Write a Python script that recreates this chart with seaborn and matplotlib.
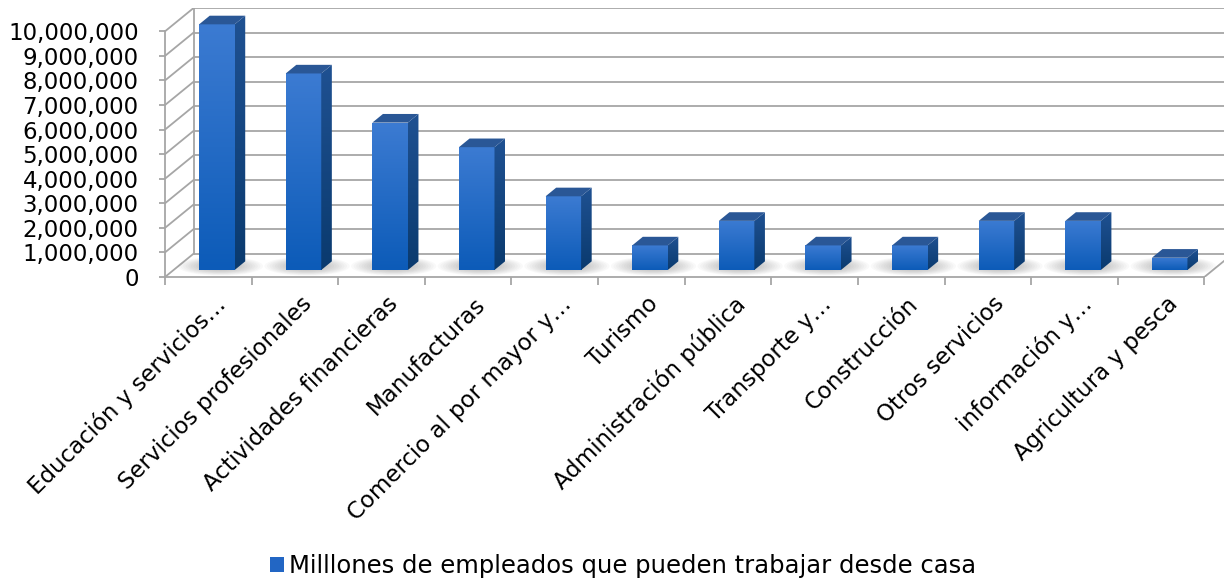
import numpy as np
import matplotlib
matplotlib.use("Agg")
import matplotlib.pyplot as plt
import seaborn as sns
import pandas as pd
from matplotlib.patches import Polygon, Patch, Ellipse
from matplotlib.colors import LinearSegmentedColormap
from matplotlib.ticker import FuncFormatter

# datos
sectores = [
    "Educación y servicios…", "Servicios profesionales", "Actividades financieras",
    "Manufacturas", "Comercio al por mayor y…", "Turismo", "Administración pública",
    "Transporte y…", "Construcción", "Otros servicios", "información y…",
    "Agricultura y pesca",
]
empleados = [10_000_000, 8_000_000, 6_000_000, 5_000_000, 3_000_000, 1_000_000,
             2_000_000, 1_000_000, 1_000_000, 2_000_000, 2_000_000, 500_000]
y_ticks = list(range(0, 10_000_001, 1_000_000))
leyenda = "Milllones de empleados que pueden trabajar desde casa"

# geometria de la vista oblicua (desplazamiento de la pared del fondo)
OX, OY = 0.33, 950_000
D0, DB = 0.30, 0.37     # profundidad de la cara frontal y fondo de la barra
GRID = "#a6a6a6"

sns.set_theme(style="white")
plt.rcParams["font.family"] = ["DejaVu Sans"]
plt.rcParams["text.color"] = "black"
plt.rcParams["xtick.labelcolor"] = "black"
plt.rcParams["ytick.labelcolor"] = "black"

fig = plt.figure(figsize=(12.24, 5.83), dpi=100)
ax = fig.add_axes([165 / 1224, 306 / 583, 1068 / 1224, 269 / 583])

df = pd.DataFrame({"sector": sectores, "empleados": empleados})
sns.barplot(data=df, x="sector", y="empleados", color="#1f63c0", width=0.41,
            saturation=1, ax=ax, zorder=4)

# paredes y suelo
n = len(sectores)
x_l, x_r = -0.5, n - 0.5
for v in y_ticks:
    ax.plot([x_l, x_l + OX], [v, v + OY], color=GRID, lw=1.3, zorder=1)
    ax.plot([x_l + OX, x_r + OX], [v + OY, v + OY], color=GRID, lw=1.3, zorder=1)
ax.plot([x_l + OX, x_l + OX], [OY, y_ticks[-1] + OY], color=GRID, lw=1.3, zorder=1)
ax.plot([x_r, x_r + OX], [0, OY], color=GRID, lw=1.3, zorder=1)

front_cmap = LinearSegmentedColormap.from_list("front", ["#0c5bb8", "#3c7bd2"])
side_cmap = LinearSegmentedColormap.from_list("side", ["#0a3a6e", "#1f5192"])
grad = np.linspace(0, 1, 256).reshape(-1, 1)

for p in ax.patches:
    x0 = p.get_x() + D0 * OX
    w = p.get_width()
    h = p.get_height()
    y0 = D0 * OY
    p.set_x(x0)
    p.set_y(y0)
    p.set_facecolor("none")
    p.set_edgecolor("none")
    dx, dy = DB * OX, DB * OY

    # sombra difusa sobre el suelo
    for k in np.linspace(2.0, 0.9, 10):
        sh = Ellipse((x0 + w * 0.6, y0 + dy * 0.45), w * k * 1.2, dy * k * 1.1,
                     facecolor="#555555", edgecolor="none", alpha=0.035, zorder=2)
        ax.add_patch(sh)

    im = ax.imshow(grad, extent=[x0, x0 + w, y0, y0 + h], origin="lower",
                   cmap=front_cmap, aspect="auto", zorder=4)
    im.set_clip_path(p)

    side = Polygon([(x0 + w, y0), (x0 + w + dx, y0 + dy),
                    (x0 + w + dx, y0 + h + dy), (x0 + w, y0 + h)],
                   closed=True, facecolor="none", edgecolor="none", zorder=4)
    ax.add_patch(side)
    im2 = ax.imshow(grad, extent=[x0 + w, x0 + w + dx, y0, y0 + h + dy],
                    origin="lower", cmap=side_cmap, aspect="auto", zorder=4)
    im2.set_clip_path(side)

    top = Polygon([(x0, y0 + h), (x0 + w, y0 + h), (x0 + w + dx, y0 + h + dy),
                   (x0 + dx, y0 + h + dy)],
                  closed=True, facecolor="#2a5796", edgecolor="none", zorder=5)
    ax.add_patch(top)

ax.set_xlim(x_l, x_r + OX)
ax.set_ylim(0, y_ticks[-1] + OY)

ax.set_yticks(y_ticks)
ax.yaxis.set_major_formatter(FuncFormatter(lambda v, _: f"{v:,.0f}"))
ax.set_xticks(np.arange(n) + 0.06)
ax.set_xticklabels(sectores, rotation=45, ha="right", rotation_mode="anchor")
ax.set_xticks(np.arange(-0.5, n, 1.0), minor=True)
ax.tick_params(axis="x", which="major", length=0, pad=11, labelsize=16.5)
ax.tick_params(axis="x", which="minor", length=6, width=1.3, color=GRID,
               direction="out", bottom=True)
ax.tick_params(axis="y", length=4, width=1.3, color=GRID, direction="out",
               left=True, labelsize=16.5, pad=15)
ax.set_xlabel("")
ax.set_ylabel("")

for s in ["top", "right"]:
    ax.spines[s].set_visible(False)
ax.spines["left"].set_bounds(0, y_ticks[-1])
ax.spines["bottom"].set_bounds(x_l, x_r)
for s in ["left", "bottom"]:
    ax.spines[s].set_color(GRID)
    ax.spines[s].set_linewidth(1.3)

handle = Patch(facecolor="#2266c4", edgecolor="none", label=leyenda)
ax.legend(handles=[handle], loc="center", bbox_to_anchor=(0.509, 0.029),
          bbox_transform=fig.transFigure, frameon=False, fontsize=17.5,
          handlelength=0.55, handleheight=0.55, handletextpad=0.2)

fig.savefig("out.png", dpi=100)
